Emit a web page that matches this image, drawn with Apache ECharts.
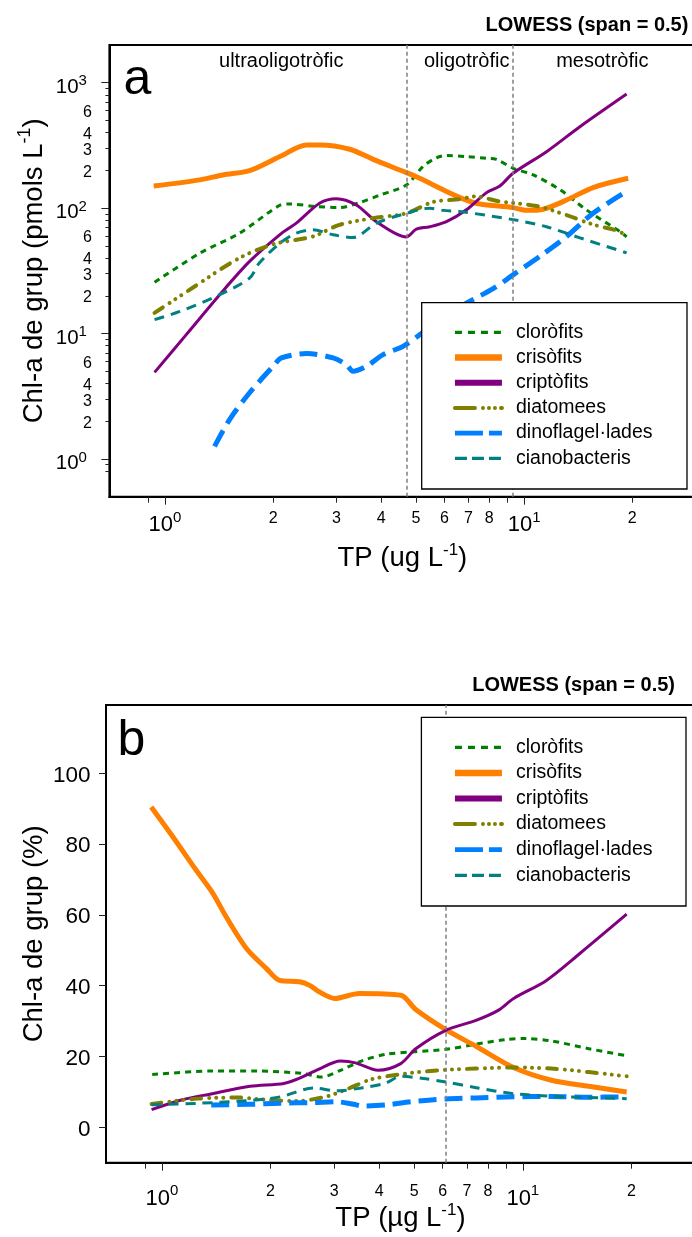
<!DOCTYPE html>
<html>
<head>
<meta charset="utf-8">
<title>Chl-a de grup vs TP</title>
<script src="https://cdn.jsdelivr.net/npm/echarts@6.0.0/dist/echarts.min.js"></script>
<style>
html,body{margin:0;padding:0;background:#ffffff;}
#chart{width:692px;height:1237px;}
</style>
</head>
<body>
<div id="chart"></div>
<script>
const FONT = "'Liberation Sans', Arial, Helvetica, sans-serif";

// ---------------- data ----------------
const groupNames = ['cloròfits', 'crisòfits', 'criptòfits', 'diatomees', 'dinoflagel·lades', 'cianobacteris'];

// Panel a: Chl-a de grup (pmols L-1) against TP (ug L-1), pairs [TP, Chl-a]
const clorofitsA = [[0.935,25.6],[1.25,43.8],[1.61,63],[2.08,105],[2.22,108],[2.64,103],[3.06,101],[3.49,111],[3.96,127],[4.7,153],[5.23,215],[5.7,252],[6.08,263],[6.9,258],[7.86,250],[8.37,245],[9.32,208],[10.6,184],[12.6,140],[14.9,97],[18.5,65],[19.3,59]];
const crisofitsA = [[0.93,150],[1.25,168],[1.45,184],[1.72,199],[2.09,258],[2.48,319],[2.70,319],[3.27,295],[3.80,245],[4.70,192],[5.12,173],[6.08,136],[6.91,116],[7.52,108],[9.32,101],[10.16,96],[11.3,98],[13.13,116],[15.57,146],[19.5,173]];
const criptofitsA = [[0.935,4.9],[1.146,9.8],[1.42,20.4],[1.72,37.6],[2.11,63],[2.32,76],[2.70,110],[3.0,119],[3.41,106],[3.88,78],[4.70,59],[5.01,68],[5.46,71],[6.08,78],[6.91,97],[7.86,133],[8.56,150],[9.32,190],[11.55,282],[14.3,446],[19.3,813]];
const diatomeesA = [[0.935,14.6],[1.2,23.4],[1.61,40],[2.0,51.5],[2.58,59.4],[3.06,73.6],[3.80,83.3],[4.70,91],[5.58,112],[6.62,118],[7.29,124],[8.56,113],[10.83,104],[13.13,88],[15.57,74],[18.48,65],[19.3,58]];
const dinoflagelladesA = [[1.374,1.26],[1.513,2.06],[1.72,3.37],[2.0,5.48],[2.11,6.39],[2.48,6.92],[2.94,6.39],[3.2,5.65],[3.34,5.0],[3.64,5.48],[4.05,6.79],[4.6,7.9],[5.12,9.8],[5.82,12.9],[6.91,17.5],[8.2,22.8],[9.32,29.4],[11.06,41.2],[13.13,59.4],[15.57,91.2],[19.3,136]];
const cianobacterisA = [[0.935,12.9],[1.1,15.0],[1.42,20.4],[1.72,27.7],[1.83,36.5],[2.09,52.6],[2.32,63.2],[2.58,67.2],[2.94,61.3],[3.34,58.3],[3.88,76],[4.70,91],[5.46,100],[5.95,96],[6.62,94],[9.32,81],[11.55,71],[14.3,58],[19.3,44]];

// Panel b: Chl-a de grup (%) against TP (µg L-1), pairs [TP, %]
const clorofitsB = [[0.94,14.9],[1.38,15.9],[1.84,15.9],[2.46,15.2],[2.77,14.2],[3.125,16.1],[3.61,18.9],[4.17,20.6],[4.93,21.3],[6.12,22.0],[7.42,23.5],[8.99,24.8],[10.13,25.1],[12.0,24.4],[15.24,22.2],[19.4,20.2]];
const crisofitsB = [[0.934,90.5],[1.072,82.1],[1.245,72.6],[1.384,66.1],[1.508,59.4],[1.713,50.6],[1.946,44.9],[2.119,41.5],[2.408,41.1],[2.567,40.1],[2.735,38.2],[3.01,36.4],[3.524,37.8],[4.59,37.3],[5.05,33.3],[6.12,27.6],[7.42,22.9],[9.43,16.9],[12.0,13.3],[15.24,11.6],[19.4,10.0]];
const criptofitsB = [[0.936,5.0],[1.139,7.8],[1.38,9.5],[1.755,11.6],[2.178,12.4],[2.399,13.8],[2.704,16.3],[3.125,18.7],[3.438,18.2],[3.972,16.1],[4.59,18.0],[5.05,22.2],[6.12,27.4],[7.42,30.2],[8.57,33.1],[9.43,36.4],[11.63,41.5],[14.39,49.1],[19.4,60.2]];
const diatomeesB = [[0.936,6.6],[1.254,8.1],[1.633,8.4],[1.931,7.8],[2.341,7.4],[2.838,8.6],[3.28,10.9],[3.787,13.5],[4.59,15.0],[5.83,16.1],[7.42,16.6],[9.43,16.9],[12.0,16.6],[15.24,15.6],[19.4,14.4]];
const dinoflagelladesB = [[1.37,6.3],[1.75,6.5],[2.13,6.8],[2.64,7.0],[3.05,7.2],[3.4,6.5],[3.6,6.0],[4.17,6.3],[4.9,7.2],[6.12,8.0],[7.42,8.3],[9.43,8.6],[12.0,8.7],[15.24,8.5],[19.4,8.6]];
const cianobacterisB = [[0.936,6.4],[1.27,6.8],[1.755,7.6],[2.127,8.6],[2.64,11.1],[3.05,10.3],[3.61,11.2],[4.17,12.5],[4.59,14.4],[5.30,13.8],[6.12,12.8],[7.42,11.2],[9.43,9.5],[12.0,8.8],[15.24,8.4],[19.4,8.1]];

// thresholds (TP) drawn as dashed verticals
const thresholdsA = [4.7, 9.3];
const thresholdsB = [6.1];
const trophicLabels = ['ultraoligotròfic', 'oligotròfic', 'mesotròfic'];

// ticks and labels
const xMinorTickValues = [0.9, 2, 3, 4, 5, 6, 7, 8, 9, 20];
const xLabelValues = [1, 2, 3, 4, 5, 6, 7, 8, 10, 20];
const xMajorValues = [1, 10];
const xMajorExps = ['0', '1'];
const yMinorTickValuesA = [0.8, 0.9, 2, 3, 4, 5, 6, 7, 8, 9, 20, 30, 40, 50, 60, 70, 80, 90, 200, 300, 400, 500, 600, 700, 800, 900];
const yLabelValuesA = [1, 2, 3, 4, 6, 10, 20, 30, 40, 60, 100, 200, 300, 400, 600, 1000];
const yMajorValuesA = [1, 10, 100, 1000];
const yMajorExpsA = ['0', '1', '2', '3'];
const yTickValuesB = [0, 20, 40, 60, 80, 100];

// ---------------- styles ----------------
const lineColors = ['#008000', '#ff8000', '#800080', '#808000', '#0080ff', '#008080'];
const lineWidths = [3, 5, 3, 4, 5, 3];
const lineDashes = [[6, 5], 'solid', 'solid', [10, 8, 0.01, 7, 0.01, 7, 0.01, 8], [18, 8], [10, 7]];
const lineCaps = ['butt', 'butt', 'butt', 'round', 'butt', 'butt'];
const legendWidths = [3.3, 6.5, 6, 4, 4.8, 3.3];
const legendDashes = [[7, 6], 'solid', 'solid', [20, 8, 0.01, 6, 0.01, 6, 0.01, 6], [28, 6], [12, 5]];

function leadDigit(v) {
  const r = +Number(v).toPrecision(4);
  return String(r).replace('0.', '').charAt(0);
}
function xFormatter(v) {
  const r = +Number(v).toPrecision(4);
  const k = xMajorValues.indexOf(r);
  if (k >= 0) return '{b|10}{s|' + xMajorExps[k] + '}';
  return '{m|' + leadDigit(r) + '}';
}
function yFormatterA(v) {
  const r = +Number(v).toPrecision(4);
  const k = yMajorValuesA.indexOf(r);
  if (k >= 0) return '{b|10}{s|' + yMajorExpsA[k] + '}';
  return '{m|' + leadDigit(r) + '}';
}

const xRich = {
  b: { fontFamily: FONT, fontSize: 22, lineHeight: 26, color: '#000', verticalAlign: 'bottom' },
  s: { fontFamily: FONT, fontSize: 15, lineHeight: 15, color: '#000', verticalAlign: 'top' },
  m: { fontFamily: FONT, fontSize: 16, lineHeight: 16, color: '#000' }
};
const yRichA = {
  b: { fontFamily: FONT, fontSize: 20.5, lineHeight: 24, color: '#000', verticalAlign: 'bottom' },
  s: { fontFamily: FONT, fontSize: 15, lineHeight: 15, color: '#000', verticalAlign: 'top', padding: [0, 5, 0, 0] },
  m: { fontFamily: FONT, fontSize: 16, lineHeight: 18, color: '#000', verticalAlign: 'top' }
};
const nameRich = {
  t: { fontFamily: FONT, fontSize: 27.5, lineHeight: 30, color: '#000', verticalAlign: 'bottom' },
  s: { fontFamily: FONT, fontSize: 18, lineHeight: 18, color: '#000', verticalAlign: 'bottom', padding: [0, 0, 14, 0] }
};
const xNameRich = {
  t: { fontFamily: FONT, fontSize: 27.5, lineHeight: 30, color: '#000', verticalAlign: 'bottom' },
  s: { fontFamily: FONT, fontSize: 17, lineHeight: 17, color: '#000', verticalAlign: 'bottom', padding: [0, 0, 14, 0] }
};

function makeSeries(names, datasets, gi) {
  return datasets.map((d, i) => ({
    name: names[i],
    type: 'line',
    xAxisIndex: gi,
    yAxisIndex: gi,
    data: d,
    smooth: 0.3,
    symbol: 'none',
    showSymbol: false,
    silent: true,
    animation: false,
    clip: true,
    z: 2,
    lineStyle: { color: lineColors[i], width: lineWidths[i], type: lineDashes[i], cap: lineCaps[i], join: 'round' },
    itemStyle: { color: lineColors[i] },
    emphasis: { disabled: true }
  }));
}

const seriesA = makeSeries(groupNames, [clorofitsA, crisofitsA, criptofitsA, diatomeesA, dinoflagelladesA, cianobacterisA], 0);
const seriesB = makeSeries(groupNames, [clorofitsB, crisofitsB, criptofitsB, diatomeesB, dinoflagelladesB, cianobacterisB], 1);

const markLineBase = {
  silent: true,
  symbol: ['none', 'none'],
  label: { show: false },
  animation: false,
  emphasis: { disabled: true },
  lineStyle: { color: '#808080', width: 1.5, type: [4, 3] }
};
seriesA[0].markLine = Object.assign({}, markLineBase, { data: thresholdsA.map(v => ({ xAxis: v })) });
seriesB[0].markLine = Object.assign({}, markLineBase, { data: thresholdsB.map(v => ({ xAxis: v })) });

function legendFor(top, rowH) {
  return {
    orient: 'vertical',
    left: 451.7,
    top: top,
    padding: 0,
    itemGap: 0,
    itemWidth: 47,
    itemHeight: 14,
    selectedMode: false,
    z: 7,
    itemStyle: { opacity: 0 },
    textStyle: { fontFamily: FONT, fontSize: 19.5, color: '#000', lineHeight: rowH, padding: [0, 0, 0, 9] },
    data: groupNames.map((n, i) => ({
      name: n,
      itemStyle: { opacity: 0 },
      lineStyle: { color: lineColors[i], width: legendWidths[i], type: legendDashes[i], cap: lineCaps[i], opacity: 1 }
    }))
  };
}

function xAxisFor(gi, margin, nameText, nameGap) {
  return {
    gridIndex: gi,
    type: 'log',
    logBase: 10,
    min: 0.7,
    max: 30,
    position: 'bottom',
    axisLine: { show: true, onZero: false, lineStyle: { color: '#000', width: 2 } },
    axisTick: { show: true, customValues: xMinorTickValues, length: 6, lineStyle: { color: '#222', width: 1 } },
    axisLabel: { show: true, customValues: xLabelValues, formatter: xFormatter, rich: xRich, margin: margin, color: '#000' },
    splitLine: { show: false },
    minorTick: { show: false },
    name: nameText,
    nameLocation: 'middle',
    nameGap: nameGap,
    nameMoveOverlap: false,
    nameTextStyle: { rich: xNameRich }
  };
}
// companion x axis (placed onto the bottom edge) that carries the longer decade ticks
function xMajorTickAxisFor(gi, gridHeight) {
  return {
    gridIndex: gi,
    type: 'log',
    logBase: 10,
    min: 0.7,
    max: 30,
    position: 'top',
    offset: -gridHeight,
    axisLine: { show: false },
    axisTick: { show: true, inside: true, customValues: xMajorValues, length: 8, lineStyle: { color: '#222', width: 1 } },
    axisLabel: { show: false },
    splitLine: { show: false },
    minorTick: { show: false }
  };
}

const option = {
  animation: false,
  backgroundColor: '#ffffff',
  textStyle: { fontFamily: FONT },
  grid: [
    { left: 109.4, top: 45, width: 586, height: 451.7, show: true, borderColor: '#000', borderWidth: 2, backgroundColor: 'transparent', containLabel: false, outerBoundsMode: 'none' },
    { left: 106, top: 705, width: 589, height: 457.7, show: true, borderColor: '#000', borderWidth: 2, backgroundColor: 'transparent', containLabel: false, outerBoundsMode: 'none' }
  ],
  xAxis: [
    xAxisFor(0, 13.5, '{t|TP (ug L}{s|-1}{t|)}', 46),
    xAxisFor(1, 21, '{t|TP (µg L}{s|-1}{t|)}', 40),
    xMajorTickAxisFor(0, 451.7),
    xMajorTickAxisFor(1, 457.7)
  ],
  yAxis: [
    {
      gridIndex: 0,
      type: 'log',
      logBase: 10,
      min: 0.5,
      max: 2000,
      position: 'left',
      axisLine: { show: true, onZero: false, lineStyle: { color: '#000', width: 2 } },
      axisTick: { show: true, customValues: yMinorTickValuesA, length: 4, lineStyle: { color: '#222', width: 1 } },
      axisLabel: { show: true, customValues: yLabelValuesA, formatter: yFormatterA, rich: yRichA, margin: 17.5, verticalAlign: 'middle', padding: [6, 0, 0, 0], color: '#000' },
      splitLine: { show: false },
      minorTick: { show: false },
      name: '{t|Chl-a de grup (pmols L}{s|-1}{t|)}',
      nameLocation: 'middle',
      nameGap: 61,
      nameMoveOverlap: false,
      nameTextStyle: { rich: nameRich }
    },
    {
      gridIndex: 1,
      type: 'value',
      min: -10,
      max: 119.3,
      position: 'left',
      axisLine: { show: true, onZero: false, lineStyle: { color: '#000', width: 2 } },
      axisTick: { show: true, customValues: yTickValuesB, length: 7, lineStyle: { color: '#222', width: 1 } },
      axisLabel: { show: true, customValues: yTickValuesB, margin: 15.5, color: '#000', fontFamily: FONT, fontSize: 22.5, lineHeight: 4, verticalAlign: 'top' },
      splitLine: { show: false },
      name: '{t|Chl-a de grup (%)}',
      nameLocation: 'middle',
      nameGap: 58,
      nameMoveOverlap: false,
      nameTextStyle: { rich: nameRich }
    },
    {
      // companion axis of panel a carrying the longer decade ticks
      gridIndex: 0,
      type: 'log',
      logBase: 10,
      min: 0.5,
      max: 2000,
      position: 'right',
      offset: -586,
      axisLine: { show: false },
      axisTick: { show: true, inside: true, customValues: yMajorValuesA, length: 8, lineStyle: { color: '#222', width: 1 } },
      axisLabel: { show: false },
      splitLine: { show: false },
      minorTick: { show: false }
    }
  ],
  legend: [legendFor(319.7, 25.2), legendFor(734.5, 25.6)],
  graphic: [
    { type: 'rect', z: 6, silent: true, shape: { x: 421.7, y: 302.7, width: 265.3, height: 186.3 }, style: { fill: '#fff', stroke: '#000', lineWidth: 1.3 } },
    { type: 'rect', z: 6, silent: true, shape: { x: 421.4, y: 717.3, width: 264.6, height: 188.7 }, style: { fill: '#fff', stroke: '#000', lineWidth: 1.3 } },
    { type: 'text', z: 8, silent: true, x: 688.4, y: 25, style: { text: 'LOWESS (span = 0.5)', font: 'bold 20px ' + FONT, fill: '#000', align: 'right', verticalAlign: 'middle' } },
    { type: 'text', z: 8, silent: true, x: 675, y: 685, style: { text: 'LOWESS (span = 0.5)', font: 'bold 20px ' + FONT, fill: '#000', align: 'right', verticalAlign: 'middle' } },
    { type: 'text', z: 8, silent: true, x: 137.5, y: 80, style: { text: 'a', font: '50px ' + FONT, fill: '#000', align: 'center', verticalAlign: 'middle' } },
    { type: 'text', z: 8, silent: true, x: 131.5, y: 741, style: { text: 'b', font: '50px ' + FONT, fill: '#000', align: 'center', verticalAlign: 'middle' } },
    { type: 'text', z: 8, silent: true, x: 281.3, y: 61, style: { text: trophicLabels[0], font: '20px ' + FONT, fill: '#000', align: 'center', verticalAlign: 'middle' } },
    { type: 'text', z: 8, silent: true, x: 466.7, y: 61, style: { text: trophicLabels[1], font: '20px ' + FONT, fill: '#000', align: 'center', verticalAlign: 'middle' } },
    { type: 'text', z: 8, silent: true, x: 602.3, y: 61, style: { text: trophicLabels[2], font: '20px ' + FONT, fill: '#000', align: 'center', verticalAlign: 'middle' } }
  ],
  series: seriesA.concat(seriesB)
};

const chart = echarts.init(document.getElementById('chart'), null, { renderer: 'canvas', width: 692, height: 1237 });
chart.setOption(option);
</script>
</body>
</html>
